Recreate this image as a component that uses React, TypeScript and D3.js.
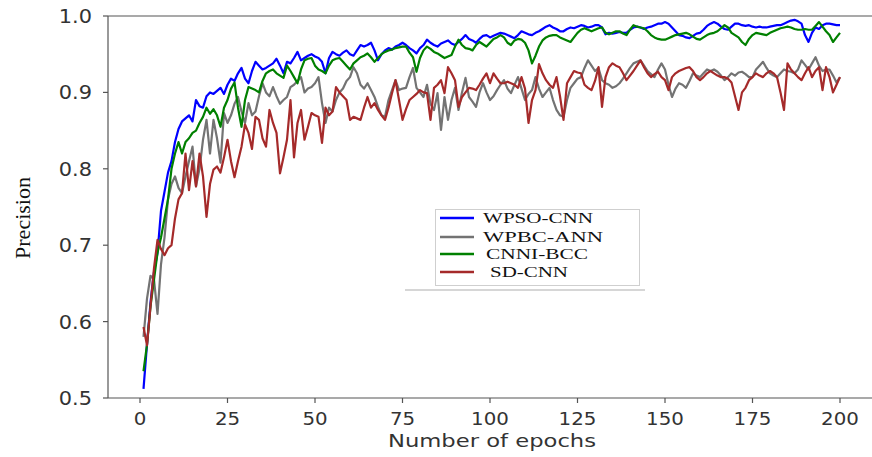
import React from "react";
import * as d3 from "d3";

const seriesNames = ["WPSO-CNN", "WPBC-ANN", "CNNI-BCC", "SD-CNN"];
const seriesColors = ["#0000ff", "#737373", "#008000", "#a52a2a"];
const xTicks = [0, 25, 50, 75, 100, 125, 150, 175, 200];
const yTicks = [0.5, 0.6, 0.7, 0.8, 0.9, 1.0];

const wpsoCnn = [
  0.512,0.570,0.625,0.665,0.690,0.745,0.770,0.795,0.810,0.835,
  0.852,0.862,0.866,0.870,0.862,0.890,0.882,0.880,0.895,0.900,
  0.898,0.902,0.906,0.898,0.910,0.918,0.915,0.925,0.932,0.918,
  0.912,0.928,0.940,0.935,0.930,0.932,0.935,0.938,0.944,0.935,
  0.925,0.940,0.938,0.945,0.953,0.942,0.945,0.948,0.950,0.947,
  0.945,0.940,0.925,0.945,0.953,0.950,0.948,0.952,0.955,0.950,
  0.948,0.955,0.962,0.960,0.962,0.965,0.955,0.942,0.950,0.955,
  0.958,0.956,0.960,0.962,0.965,0.962,0.958,0.955,0.951,0.958,
  0.962,0.969,0.965,0.962,0.960,0.964,0.966,0.968,0.964,0.962,
  0.966,0.970,0.975,0.970,0.968,0.965,0.970,0.974,0.975,0.972,
  0.974,0.976,0.978,0.977,0.975,0.973,0.971,0.975,0.980,0.978,
  0.976,0.975,0.978,0.980,0.983,0.986,0.988,0.985,0.983,0.980,
  0.980,0.983,0.985,0.984,0.986,0.988,0.987,0.985,0.986,0.988,
  0.988,0.985,0.976,0.978,0.977,0.978,0.979,0.978,0.978,0.982,
  0.985,0.986,0.985,0.983,0.985,0.986,0.988,0.990,0.990,0.992,
  0.990,0.985,0.980,0.975,0.974,0.972,0.971,0.974,0.977,0.978,
  0.982,0.987,0.990,0.992,0.990,0.986,0.983,0.982,0.986,0.990,
  0.990,0.988,0.987,0.988,0.986,0.985,0.986,0.985,0.985,0.986,
  0.987,0.988,0.988,0.990,0.992,0.994,0.995,0.993,0.990,0.975,
  0.966,0.978,0.985,0.983,0.988,0.990,0.990,0.989,0.988,0.988,
];

const wpbcAnn = [
  0.580,0.630,0.660,0.655,0.610,0.675,0.710,0.760,0.780,0.790,
  0.775,0.768,0.790,0.810,0.829,0.777,0.800,0.838,0.864,0.820,
  0.864,0.840,0.808,0.873,0.860,0.870,0.885,0.894,0.875,0.860,
  0.886,0.870,0.875,0.895,0.912,0.900,0.895,0.907,0.895,0.885,
  0.890,0.894,0.907,0.910,0.915,0.920,0.900,0.905,0.907,0.912,
  0.920,0.886,0.860,0.880,0.875,0.890,0.900,0.905,0.915,0.920,
  0.933,0.925,0.910,0.905,0.912,0.903,0.894,0.881,0.870,0.868,
  0.890,0.903,0.916,0.903,0.905,0.906,0.920,0.932,0.906,0.900,
  0.894,0.910,0.885,0.877,0.899,0.851,0.894,0.864,0.890,0.906,
  0.877,0.900,0.919,0.894,0.888,0.881,0.900,0.912,0.900,0.890,
  0.895,0.903,0.910,0.916,0.905,0.899,0.910,0.920,0.905,0.890,
  0.898,0.903,0.920,0.905,0.894,0.900,0.906,0.890,0.877,0.870,
  0.868,0.890,0.906,0.912,0.918,0.920,0.932,0.942,0.935,0.928,
  0.932,0.916,0.912,0.910,0.906,0.908,0.912,0.918,0.925,0.932,
  0.938,0.940,0.942,0.935,0.928,0.924,0.920,0.930,0.938,0.930,
  0.910,0.894,0.905,0.912,0.910,0.906,0.915,0.925,0.922,0.920,
  0.925,0.930,0.928,0.930,0.927,0.922,0.916,0.920,0.925,0.922,
  0.926,0.927,0.924,0.920,0.920,0.930,0.935,0.940,0.932,0.925,
  0.922,0.920,0.925,0.930,0.928,0.927,0.925,0.930,0.942,0.936,
  0.930,0.938,0.946,0.935,0.928,0.930,0.930,0.922,0.913,0.920,
];

const cnniBcc = [
  0.535,0.570,0.620,0.655,0.690,0.710,0.735,0.760,0.800,0.820,
  0.835,0.820,0.835,0.840,0.847,0.850,0.860,0.868,0.880,0.872,
  0.878,0.870,0.855,0.880,0.890,0.905,0.913,0.880,0.855,0.890,
  0.907,0.905,0.903,0.900,0.915,0.925,0.928,0.930,0.925,0.922,
  0.919,0.935,0.928,0.920,0.912,0.930,0.942,0.944,0.945,0.935,
  0.930,0.928,0.925,0.935,0.942,0.944,0.945,0.940,0.935,0.930,
  0.938,0.942,0.946,0.948,0.951,0.946,0.940,0.945,0.950,0.953,
  0.955,0.956,0.958,0.959,0.960,0.960,0.952,0.946,0.927,0.945,
  0.955,0.960,0.957,0.953,0.951,0.948,0.945,0.947,0.949,0.960,
  0.969,0.962,0.958,0.957,0.955,0.962,0.966,0.963,0.960,0.965,
  0.970,0.972,0.975,0.972,0.965,0.962,0.968,0.970,0.969,0.965,
  0.955,0.938,0.948,0.960,0.968,0.972,0.974,0.975,0.975,0.972,
  0.970,0.968,0.966,0.972,0.978,0.982,0.984,0.982,0.980,0.982,
  0.984,0.985,0.978,0.976,0.978,0.980,0.980,0.977,0.975,0.982,
  0.988,0.986,0.985,0.984,0.980,0.975,0.972,0.970,0.969,0.969,
  0.971,0.973,0.975,0.976,0.977,0.978,0.976,0.973,0.970,0.969,
  0.972,0.975,0.977,0.978,0.980,0.984,0.988,0.985,0.978,0.975,
  0.972,0.966,0.962,0.970,0.975,0.978,0.977,0.976,0.975,0.978,
  0.980,0.982,0.984,0.985,0.986,0.985,0.983,0.982,0.982,0.983,
  0.982,0.982,0.987,0.992,0.986,0.980,0.975,0.966,0.972,0.978,
];

const sdCnn = [
  0.593,0.569,0.620,0.670,0.707,0.695,0.687,0.696,0.700,0.735,
  0.760,0.768,0.820,0.772,0.810,0.777,0.820,0.790,0.737,0.780,
  0.799,0.803,0.795,0.815,0.838,0.810,0.789,0.810,0.829,0.858,
  0.847,0.826,0.868,0.864,0.840,0.829,0.877,0.860,0.847,0.794,
  0.815,0.838,0.890,0.815,0.860,0.877,0.838,0.855,0.873,0.870,
  0.868,0.834,0.880,0.870,0.875,0.907,0.900,0.895,0.890,0.864,
  0.868,0.866,0.864,0.880,0.894,0.880,0.886,0.877,0.870,0.864,
  0.880,0.899,0.916,0.890,0.864,0.878,0.890,0.894,0.898,0.903,
  0.900,0.899,0.864,0.906,0.910,0.916,0.899,0.933,0.925,0.916,
  0.881,0.894,0.900,0.906,0.905,0.903,0.910,0.918,0.925,0.912,
  0.925,0.918,0.912,0.912,0.914,0.912,0.910,0.906,0.920,0.905,
  0.860,0.890,0.903,0.937,0.925,0.916,0.910,0.906,0.920,0.895,
  0.864,0.912,0.920,0.928,0.926,0.925,0.910,0.906,0.903,0.915,
  0.933,0.881,0.920,0.933,0.938,0.935,0.933,0.925,0.916,0.922,
  0.928,0.935,0.942,0.933,0.925,0.920,0.924,0.927,0.920,0.916,
  0.903,0.920,0.925,0.928,0.930,0.932,0.933,0.928,0.920,0.916,
  0.920,0.925,0.928,0.925,0.922,0.920,0.920,0.918,0.913,0.895,
  0.877,0.900,0.906,0.916,0.920,0.925,0.922,0.920,0.925,0.928,
  0.925,0.920,0.900,0.877,0.938,0.930,0.925,0.920,0.916,0.925,
  0.933,0.920,0.928,0.933,0.903,0.933,0.920,0.900,0.910,0.920,
];

const allSeries = [wpsoCnn, wpbcAnn, cnniBcc, sdCnn];

const W = 872;
const H = 457;
const plotLeft = 108;
const plotTop = 16;
const plotBottom = 398;

export default function App() {
  const x = d3.scaleLinear().domain([0, 200]).range([140, 840]);
  const y = d3.scaleLinear().domain([0.5, 1.0]).range([plotBottom, plotTop]);
  const line = d3
    .line<number>()
    .x((_, i) => x(i + 1))
    .y((d) => y(d));

  const legendRows = [218, 237, 254, 272];
  const legendBase = [223, 242, 259, 277];
  const legendTextX = [483, 483, 486, 490];
  const legendTextW = [110, 120, 102, 78];

  return (
    <svg
      width={W}
      height={H}
      style={{ position: "absolute", left: 0, top: 0, background: "#fff" }}
    >
      <rect x={0} y={0} width={W} height={H} fill="#fff" />
      <g fill="none" strokeWidth={2.2} strokeLinejoin="round">
        {allSeries.map((s, k) => (
          <path key={k} d={line(s) || ""} stroke={seriesColors[k]} />
        ))}
      </g>
      <g stroke="#555" strokeWidth={1.2}>
        <line x1={plotLeft} x2={W} y1={plotTop} y2={plotTop} />
        <line x1={plotLeft} x2={W} y1={plotBottom} y2={plotBottom} />
        <line x1={plotLeft} x2={plotLeft} y1={plotTop} y2={plotBottom} />
      </g>
      <g>
        {yTicks.map((t) => (
          <g key={t}>
            <line x1={plotLeft - 5} x2={plotLeft} y1={y(t)} y2={y(t)} stroke="#555" strokeWidth={1.2} />
            <text
              transform={`translate(92,${y(t) + 7}) scale(1.1,1)`}
              textAnchor="end"
              fontFamily="DejaVu Sans"
              fontSize={19}
              fill="#333"
            >
              {t.toFixed(1)}
            </text>
          </g>
        ))}
      </g>
      <g>
        {xTicks.map((t) => (
          <g key={t}>
            <line x1={x(t)} x2={x(t)} y1={plotBottom} y2={plotBottom + 5} stroke="#555" strokeWidth={1.2} />
            <text
              transform={`translate(${x(t)},425) scale(1.1,1)`}
              textAnchor="middle"
              fontFamily="DejaVu Sans"
              fontSize={18}
              fill="#333"
            >
              {t}
            </text>
          </g>
        ))}
      </g>
      <text
        x={388}
        y={447}
        textLength={208}
        lengthAdjust="spacingAndGlyphs"
        fontFamily="DejaVu Sans"
        fontSize={18}
        fill="#333"
      >
        Number of epochs
      </text>
      <text
        transform="translate(30,218) rotate(-90)"
        textAnchor="middle"
        fontFamily="Liberation Serif"
        fontSize={22}
        fill="#111"
      >
        Precision
      </text>
      <rect x={435.5} y={209.5} width={204} height={76} fill="#fff" stroke="#cfcfcf" strokeWidth={1} />
      <line x1={405} x2={645} y1={290} y2={290} stroke="#c8c8c8" strokeWidth={1.5} />
      {seriesNames.map((n, k) => (
        <g key={n}>
          <line x1={440} x2={474} y1={legendRows[k]} y2={legendRows[k]} stroke={seriesColors[k]} strokeWidth={2.5} />
          <text
            x={legendTextX[k]}
            y={legendBase[k]}
            textLength={legendTextW[k]}
            lengthAdjust="spacingAndGlyphs"
            fontFamily="Liberation Serif"
            fontSize={15}
            fill="#111"
          >
            {n}
          </text>
        </g>
      ))}
    </svg>
  );
}
